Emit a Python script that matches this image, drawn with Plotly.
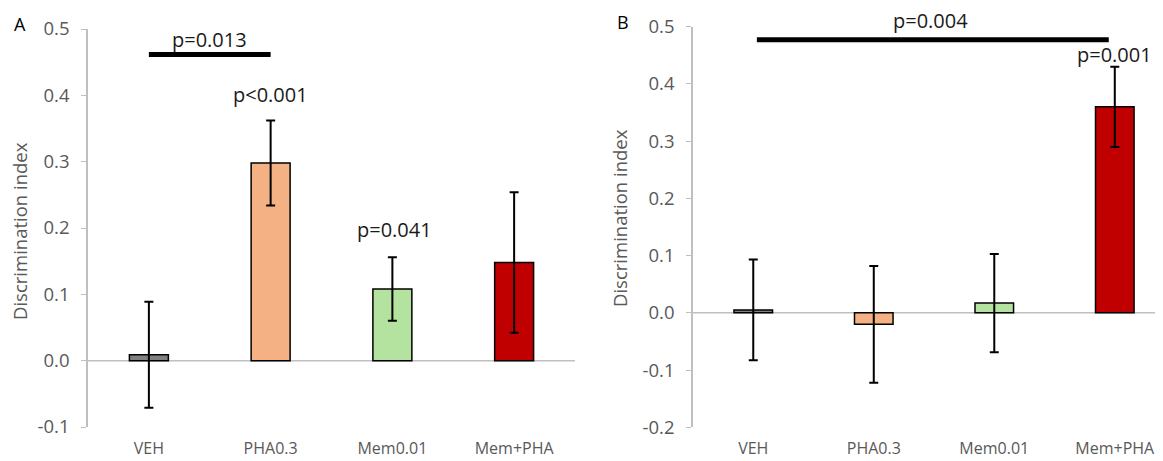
import plotly.graph_objects as go

categories = ["VEH", "PHA0.3", "Mem0.01", "Mem+PHA"]
a_values = [0.009, 0.298, 0.108, 0.148]
a_errors = [0.080, 0.064, 0.048, 0.106]
b_values = [0.005, -0.020, 0.017, 0.360]
b_errors = [0.088, 0.102, 0.086, 0.070]
bar_colors = ["#808080", "#F4B183", "#B4E3A0", "#C00000"]

a_ticks = [-0.1, 0.0, 0.1, 0.2, 0.3, 0.4, 0.5]
b_ticks = [-0.2, -0.1, 0.0, 0.1, 0.2, 0.3, 0.4, 0.5]

# significance brackets: (x_from, x_to, y, label, label_x, label_y)
a_bracket = [0, 1, 0.4615, "p=0.013", 0.5, 0.484]
b_bracket = [0.03, 2.95, 0.477, "p=0.004", 1.47, 0.483]
# single-bar p-values: (label, x, y)
a_pvals = [("p<0.001", 1.0, 0.401), ("p=0.041", 2.02, 0.197)]
b_pvals = [("p=0.001", 3.0, 0.452)]

FONT = "Open Sans"
GREY = "#595959"
AXC = "#BFBFBF"
OFF = 8  # page body margin
W, H = 1163 - OFF, 461 - OFF
xs = list(range(len(categories)))


def px_x(X):
    return (X - OFF) / W


def px_y(Y):
    return 1 - (Y - OFF) / H


fig = go.Figure()
for vals, errs, xa, ya in [(a_values, a_errors, "x", "y"), (b_values, b_errors, "x2", "y2")]:
    fig.add_trace(go.Bar(
        x=xs, y=vals, xaxis=xa, yaxis=ya, width=0.32,
        marker=dict(color=bar_colors, line=dict(color="black", width=1.5)),
        error_y=dict(type="data", array=errs, visible=True, color="black", thickness=2, width=4.5),
        showlegend=False, hoverinfo="skip",
    ))

axis_common = dict(showgrid=False, zeroline=False, automargin=False)
xfont = dict(family=FONT, size=16, color=GREY)
yfont = dict(family=FONT, size=18.5, color=GREY)
fig.update_layout(
    width=W, height=H,
    margin=dict(l=0, r=0, t=0, b=0, pad=0),
    paper_bgcolor="white", plot_bgcolor="white",
    font=dict(family=FONT, color=GREY, size=17),
    xaxis=dict(domain=[px_x(88), px_x(575)], range=[-0.5, 3.5], tickvals=xs, ticktext=categories,
               showline=False, ticks="", anchor="y", ticklabelstandoff=10, tickfont=xfont,
               ticklabeloverflow="allow", **axis_common),
    yaxis=dict(domain=[px_y(427), px_y(29)], range=[-0.1, 0.5], tickvals=a_ticks,
               ticktext=[f"{v:.1f}" for v in a_ticks], showline=True, linecolor=AXC, linewidth=1.5,
               ticks="outside", ticklen=5, tickcolor=AXC, anchor="x", ticklabelstandoff=8,
               tickfont=yfont, **axis_common),
    xaxis2=dict(domain=[px_x(693), 1.0], range=[-0.5, 3.4], tickvals=xs, ticktext=categories,
                showline=False, ticks="", anchor="y2", ticklabelstandoff=10, tickfont=xfont,
                ticklabeloverflow="allow", **axis_common),
    yaxis2=dict(domain=[px_y(427.3), px_y(26.7)], range=[-0.2, 0.5], tickvals=b_ticks,
                ticktext=[f"{v:.1f}" for v in b_ticks], showline=True, linecolor=AXC, linewidth=1.5,
                ticks="outside", ticklen=5, tickcolor=AXC, anchor="x2", ticklabelstandoff=8,
                tickfont=yfont, **axis_common),
)

shapes = []
for xa, ya, xr in [("x", "y", [-0.5, 3.5]), ("x2", "y2", [-0.5, 3.4])]:
    shapes.append(dict(type="line", xref=xa, yref=ya, x0=xr[0], x1=xr[1], y0=0, y1=0,
                       line=dict(color=AXC, width=1.5), layer="below"))
for br, xa, ya in [(a_bracket, "x", "y"), (b_bracket, "x2", "y2")]:
    shapes.append(dict(type="line", xref=xa, yref=ya, x0=br[0], x1=br[1], y0=br[2], y1=br[2],
                       line=dict(color="black", width=5)))
fig.update_layout(shapes=shapes)

ann = []
pfont = dict(family=FONT, size=20, color="#1a1a1a")
ann.append(dict(text=a_bracket[3], x=a_bracket[4], y=a_bracket[5], xref="x", yref="y",
                showarrow=False, font=pfont))
ann.append(dict(text=b_bracket[3], x=b_bracket[4], y=b_bracket[5], xref="x2", yref="y2",
                yanchor="bottom", showarrow=False, font=pfont))
for lst, xa, ya in [(a_pvals, "x", "y"), (b_pvals, "x2", "y2")]:
    for t, x, y in lst:
        ann.append(dict(text=t, x=x, y=y, xref=xa, yref=ya, showarrow=False, font=pfont))
# panel letters
for letter, X, Y in [("A", 20, 24), ("B", 623, 22)]:
    ann.append(dict(text=letter, x=px_x(X), y=px_y(Y), xref="paper", yref="paper",
                    xanchor="center", yanchor="middle", showarrow=False,
                    font=dict(family=FONT, size=18, color="black")))
# y-axis titles
for X, Y in [(19, 231), (620, 218)]:
    ann.append(dict(text="Discrimination index", x=px_x(X), y=px_y(Y), xref="paper", yref="paper",
                    xanchor="center", yanchor="middle", showarrow=False, textangle=-90,
                    font=dict(family=FONT, size=18.5, color=GREY)))
fig.update_layout(annotations=ann)

fig.write_html("out.html")
